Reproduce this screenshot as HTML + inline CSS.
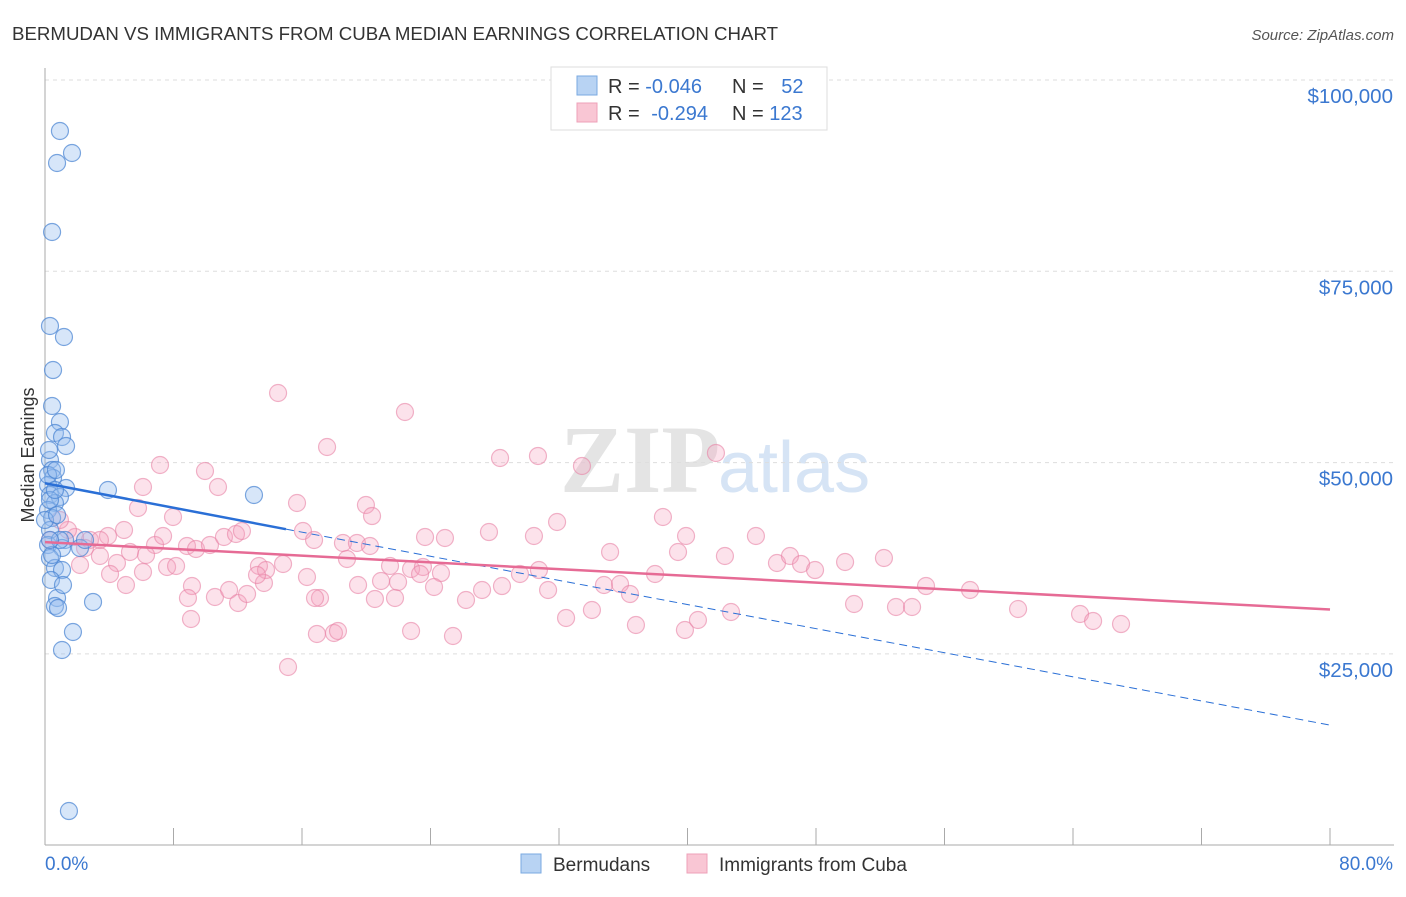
<!DOCTYPE html>
<html><head><meta charset="utf-8"><style>
body{margin:0;background:#fff;font-family:"Liberation Sans",sans-serif}
</style></head><body>
<svg id="c" width="1406" height="892" xmlns="http://www.w3.org/2000/svg">
<text x="12" y="40" font-size="18" fill="#333" textLength="766" lengthAdjust="spacingAndGlyphs">BERMUDAN VS IMMIGRANTS FROM CUBA MEDIAN EARNINGS CORRELATION CHART</text>
<text x="1394" y="40" font-size="15" fill="#555" text-anchor="end" font-style="italic">Source: ZipAtlas.com</text>
<text x="560" y="492" font-size="96" fill="#e4e4e4" font-family="Liberation Serif" font-weight="bold">ZIP</text>
<text x="718" y="492" font-size="72" fill="#d6e4f5">atlas</text>
<g id="grid"></g><g id="axes"></g><g id="pts"></g><g id="trends"></g>
<text transform="translate(34,455) rotate(-90)" font-size="18" fill="#333" text-anchor="middle">Median Earnings</text>
<g>
<rect x="551" y="67" width="276" height="63" fill="#fff" stroke="#ddd"/>
<rect x="577" y="76" width="20" height="19" fill="#b8d3f3" stroke="#7aaae0"/>
<rect x="577" y="103" width="20" height="19" fill="#f9c6d4" stroke="#eea0b8"/>
<text x="608" y="93" font-size="20" fill="#333">R = <tspan fill="#3b78d0">-0.046</tspan></text>
<text x="732" y="93" font-size="20" fill="#333">N = <tspan fill="#3b78d0" dx="12">52</tspan></text>
<text x="608" y="120" font-size="20" fill="#333">R = <tspan fill="#3b78d0" dx="6">-0.294</tspan></text>
<text x="732" y="120" font-size="20" fill="#333">N = <tspan fill="#3b78d0">123</tspan></text>
</g>
<g>
<rect x="521" y="854" width="20" height="19" fill="#b8d3f3" stroke="#7aaae0"/>
<text x="553" y="871" font-size="19" fill="#333">Bermudans</text>
<rect x="687" y="854" width="20" height="19" fill="#f9c6d4" stroke="#eea0b8"/>
<text x="719" y="871" font-size="19" fill="#333">Immigrants from Cuba</text>
</g>
</svg>
<script>
const yTicks=[25000,50000,75000,100000];
const yTickLabels=["$25,000","$50,000","$75,000","$100,000"];
const bermPx=[[60,131],[57,163],[72,153],[52,232],[50,326],[64,337],[53,370],[52,406],[60,422],[55,433],[62,437],[66,446],[50,460],[52,470],[53,478],[48,485],[66,488],[50,495],[60,497],[55,503],[48,510],[52,518],[108,490],[254,495],[50,530],[48,545],[65,540],[62,548],[80,548],[50,558],[55,568],[62,570],[52,555],[57,598],[55,606],[58,608],[93,602],[73,632],[62,650],[69,811],[50,500],[48,475],[56,470],[60,540],[50,540],[45,520],[57,515],[55,490],[49,450],[51,580],[63,585],[85,540]];
const cubaPx=[[278,393],[405,412],[327,447],[160,465],[205,471],[218,487],[500,458],[538,456],[582,466],[716,453],[143,487],[173,517],[297,503],[366,505],[372,516],[138,508],[155,545],[124,530],[108,536],[90,540],[75,537],[68,530],[85,548],[100,556],[117,563],[130,552],[146,555],[167,567],[176,566],[187,546],[196,549],[210,545],[224,537],[236,534],[242,531],[259,566],[266,570],[283,564],[303,531],[314,540],[343,543],[357,543],[347,559],[390,566],[411,569],[423,567],[441,573],[425,537],[489,532],[534,536],[557,522],[610,552],[663,517],[686,536],[678,552],[725,556],[756,536],[777,563],[790,556],[801,564],[815,570],[845,562],[884,558],[163,536],[110,574],[126,585],[143,572],[192,586],[188,598],[215,597],[229,590],[238,603],[247,594],[264,583],[257,575],[307,577],[320,598],[315,598],[358,585],[375,599],[381,581],[398,582],[420,574],[434,587],[466,600],[482,590],[502,586],[520,574],[539,570],[548,590],[604,585],[620,584],[630,594],[655,574],[566,618],[592,610],[636,625],[685,630],[698,620],[731,612],[854,604],[896,607],[912,607],[926,586],[970,590],[1018,609],[1080,614],[1093,621],[1121,624],[191,619],[317,634],[334,633],[338,631],[411,631],[453,636],[288,667],[370,546],[395,598],[445,538],[60,520],[80,565],[100,540],[50,540]];
const bermX=bermPx.map(p=>+((p[0]-45)/1285*80).toFixed(2));
const bermY=bermPx.map(p=>Math.round(100000-(p[1]-80)*25000/191.3));
const cubaX=cubaPx.map(p=>+((p[0]-45)/1285*80).toFixed(2));
const cubaY=cubaPx.map(p=>Math.round(100000-(p[1]-80)*25000/191.3));
const bermTrend=[[0,47300],[15,41300],[80,15700]];
const cubaTrend=[[0,39600],[80,30800]];
const NS="http://www.w3.org/2000/svg";
const X=v=>45+v/80*1285, Y=v=>80+(100000-v)*191.3/25000;
function mk(t,a,p){const e=document.createElementNS(NS,t);for(const k in a)e.setAttribute(k,a[k]);document.getElementById(p).appendChild(e);return e;}
yTicks.forEach((t,i)=>{
 let l=mk('line',{x1:45,x2:1394,y1:Y(t),y2:Y(t),stroke:'#ddd','stroke-dasharray':'4,4'},'grid');
 
 
 let tx=mk('text',{x:1393,y:Y(t)+23,'font-size':20.5,fill:'#3b78d0','text-anchor':'end'},'grid');
 tx.textContent=yTickLabels[i];
 
 
});
let ax=mk('line',{x1:45,x2:45,y1:68,y2:845,stroke:'#aaa'},'axes');


let bx=mk('line',{x1:45,x2:1394,y1:845,y2:845,stroke:'#aaa'},'axes');


for(let i=0;i<=10;i++){let t=mk('line',{x1:X(i*8),x2:X(i*8),y1:828,y2:845,stroke:'#aaa'},'axes');
 
 }
let x0=mk('text',{x:45,y:870,'font-size':19,fill:'#3b78d0'},'axes');x0.textContent='0.0%';


let x1=mk('text',{x:1393,y:870,'font-size':19,fill:'#3b78d0','text-anchor':'end'},'axes');x1.textContent='80.0%';


cubaX.forEach((x,i)=>{let c=mk('circle',{cx:X(x),cy:Y(cubaY[i]),r:8.5,fill:'rgba(244,160,188,0.3)',stroke:'rgba(232,130,165,0.6)','stroke-width':1.2},'pts');
 
 });
bermX.forEach((x,i)=>{let c=mk('circle',{cx:X(x),cy:Y(bermY[i]),r:8.5,fill:'rgba(150,190,240,0.38)',stroke:'rgba(70,130,210,0.7)','stroke-width':1.2},'pts');
 
 });
let t1=mk('line',{x1:X(bermTrend[0][0]),y1:Y(bermTrend[0][1]),x2:X(bermTrend[1][0]),y2:Y(bermTrend[1][1]),stroke:'#2a6fd6','stroke-width':2.5},'trends');


let t2=mk('line',{x1:X(bermTrend[1][0]),y1:Y(bermTrend[1][1]),x2:X(bermTrend[2][0]),y2:Y(bermTrend[2][1]),stroke:'#2a6fd6','stroke-width':1,'stroke-dasharray':'8,5'},'trends');


let t3=mk('line',{x1:X(cubaTrend[0][0]),y1:Y(cubaTrend[0][1]),x2:X(cubaTrend[1][0]),y2:Y(cubaTrend[1][1]),stroke:'#e66b95','stroke-width':2.5},'trends');


</script>
</body></html>
